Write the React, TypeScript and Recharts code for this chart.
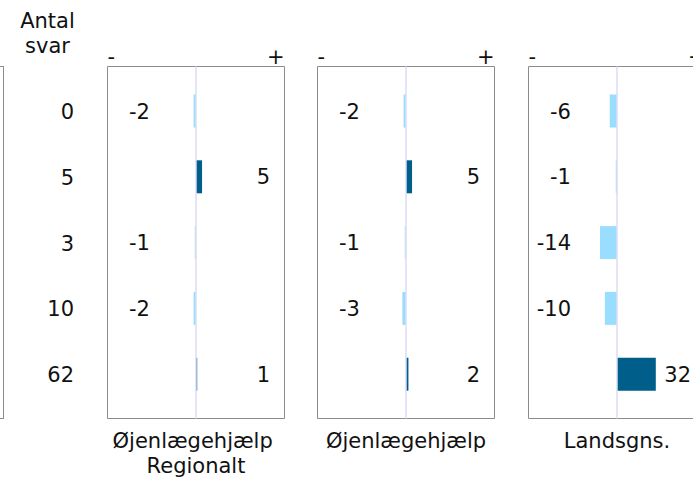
import React from 'react';
import {
  BarChart,
  Bar,
  Cell,
  XAxis,
  YAxis,
  ReferenceArea,
  ReferenceLine,
  LabelList,
} from 'recharts';

// rows of the (cut off) question list, top to bottom
const rows = ['r1', 'r2', 'r3', 'r4', 'r5'];
const antalSvar = [0, 5, 3, 10, 62];

// difference to comparison group, per row
const regionalt = [-2, 5, -1, -2, 1];
const oejenlaege = [-2, 5, -1, -3, 2];
const landsgns = [-6, -1, -14, -10, 32];

const panelTitles = [
  ['Øjenlægehjælp\u00a0', 'Regionalt'],
  ['Øjenlægehjælp'],
  ['Landsgns.'],
];
const signTicks = [-73, 73];

const FONT = '"DejaVu Sans", Verdana, sans-serif';
const TEXT = '#111';
const BORDER = '#8c8c8c';
const ZERO_LINE = '#dcdcf4';
const NEG = '#99deff';
const POS = '#005f8a';

const PANEL_LEFT = [107.5, 317.5, 528.5];
const PANEL_W = 177;
const CHART_W = 720;
const CHART_H = 477;

const SignTick = (props: any) => {
  const { x, y, payload } = props;
  const neg = payload.value < 0;
  return (
    <text
      x={x}
      y={y - 2.5}
      textAnchor={neg ? 'start' : 'end'}
      fontFamily={FONT}
      fontSize={21}
      fill={TEXT}
    >
      {neg ? '-' : '+'}
    </text>
  );
};

const CountTick = (props: any) => {
  const { x, y, index } = props;
  return (
    <text x={x} y={y} dy="0.36em" textAnchor="end" fontFamily={FONT} fontSize={21} fill={TEXT}>
      {antalSvar[index]}
    </text>
  );
};

const Panel = ({ values, idx }: { values: number[]; idx: number }) => {
  const left = PANEL_LEFT[idx];
  const cx = left + PANEL_W / 2;
  const data = rows.map((row, i) => ({ row, value: values[i] }));

  const renderLabel = (props: any) => {
    const { y, height, value } = props;
    const v = Number(value);
    return (
      <text
        x={v < 0 ? cx - 46 : cx + 74}
        y={y + height / 2}
        dy="0.36em"
        textAnchor="end"
        fontFamily={FONT}
        fontSize={21}
        fill={TEXT}
      >
        {v}
      </text>
    );
  };

  return (
    <div style={{ position: 'absolute', left: 0, top: 0 }}>
      <BarChart
        width={CHART_W}
        height={CHART_H}
        data={data}
        layout="vertical"
        margin={{
          top: 36.5,
          bottom: 58.5,
          left: idx === 0 ? 0 : left,
          right: CHART_W - left - PANEL_W,
        }}
      >
        <XAxis
          type="number"
          orientation="top"
          domain={[-73, 73]}
          ticks={signTicks}
          interval={0}
          axisLine={false}
          tickLine={false}
          tickSize={0}
          tickMargin={0}
          height={30}
          tick={<SignTick />}
        />
        <YAxis
          type="category"
          dataKey="row"
          padding={{ top: 12, bottom: 11 }}
          hide={idx !== 0}
          width={left}
          axisLine={false}
          tickLine={false}
          tickSize={0}
          tickMargin={left - 74}
          interval={0}
          tick={<CountTick />}
        />
        <YAxis yAxisId="full" type="number" domain={[0, 1]} hide />
        <ReferenceArea
          yAxisId="full"
          x1={-73}
          x2={73}
          fill="none"
          stroke={BORDER}
          strokeWidth={1}
        />
        <ReferenceLine yAxisId="full" x={0} stroke={ZERO_LINE} strokeWidth={1.5} />
        <Bar dataKey="value" barSize={33} isAnimationActive={false}>
          {data.map((d, i) => (
            <Cell key={`cell-${i}`} fill={d.value < 0 ? NEG : POS} />
          ))}
          <LabelList dataKey="value" content={renderLabel} />
        </Bar>
      </BarChart>
    </div>
  );
};

export default function App() {
  const series = [regionalt, oejenlaege, landsgns];

  return (
    <div
      style={{
        position: 'absolute',
        left: 0,
        top: 0,
        width: 693,
        height: 477,
        overflow: 'hidden',
        background: '#fff',
        fontFamily: FONT,
        color: TEXT,
      }}
    >
      {/* edge of the previous (cut off) panel */}
      <div
        style={{
          position: 'absolute',
          left: -100,
          top: 66,
          width: 104,
          height: 353,
          border: `1px solid ${BORDER}`,
          boxSizing: 'border-box',
        }}
      />
      <div
        style={{
          position: 'absolute',
          left: 0,
          top: 9,
          width: 95,
          textAlign: 'center',
          fontSize: 21,
          lineHeight: '25px',
        }}
      >
        Antal
        <br />
        svar
      </div>

      {series.map((values, i) => (
        <Panel key={i} values={values} idx={i} />
      ))}

      {panelTitles.map((lines, i) => (
        <div
          key={i}
          style={{
            position: 'absolute',
            left: PANEL_LEFT[i] + PANEL_W / 2 - 110,
            top: 429,
            width: 220,
            textAlign: 'center',
            fontSize: 21,
            lineHeight: '25px',
          }}
        >
          {lines.map((l, j) => (
            <div key={j}>{l}</div>
          ))}
        </div>
      ))}
    </div>
  );
}
